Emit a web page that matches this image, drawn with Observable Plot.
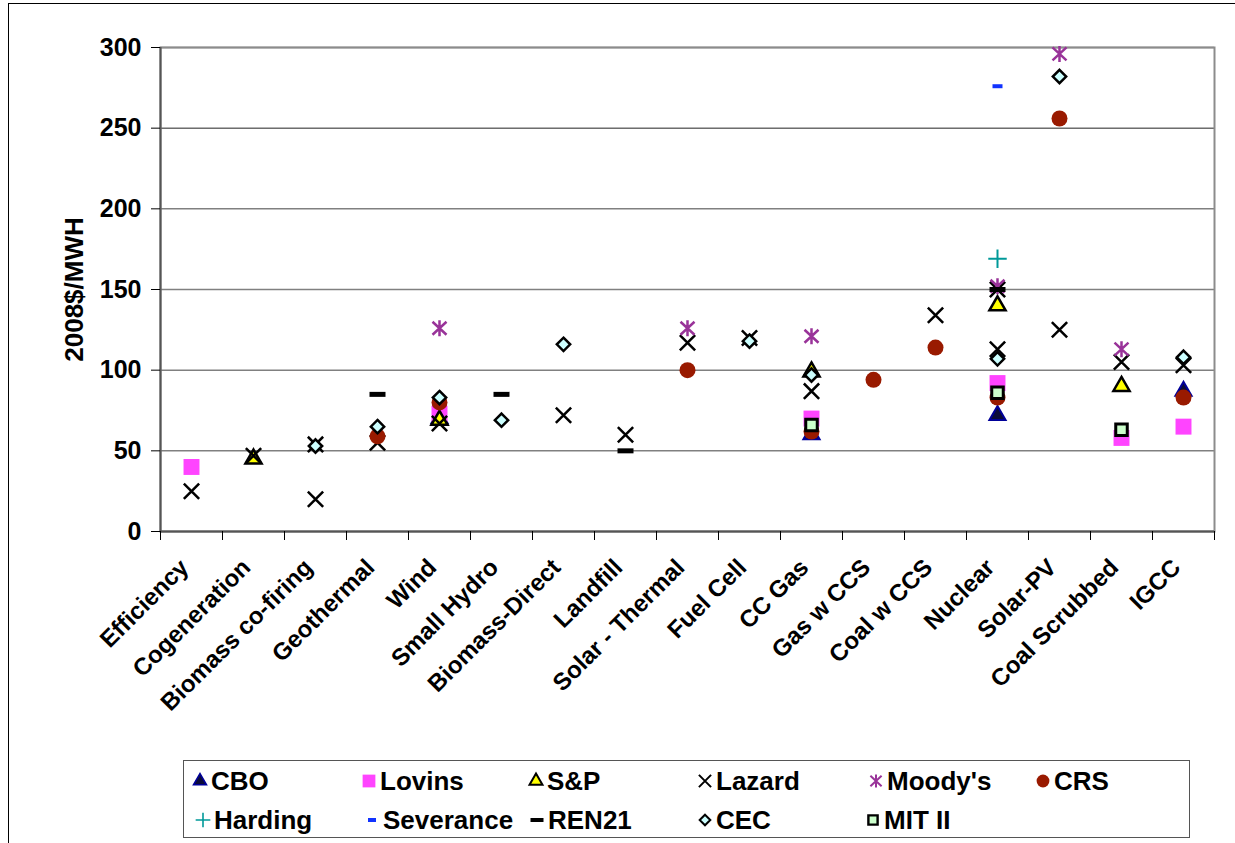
<!DOCTYPE html>
<html><head><meta charset="utf-8">
<script src="https://cdn.jsdelivr.net/npm/d3@7"></script>
<script src="https://cdn.jsdelivr.net/npm/@observablehq/plot@0.6"></script>
<style>
body{margin:0;background:#fff;font-family:"Liberation Sans",Arial,sans-serif;}
#frame{position:absolute;left:8px;top:3px;width:1240px;height:850px;border:1.5px solid #000;box-sizing:border-box;}
#chart{position:absolute;left:0;top:0;}
#legend{position:absolute;left:183px;top:760px;width:1007px;height:78px;border:1.5px solid #555;box-sizing:border-box;font-weight:bold;font-size:26px;}
.item{position:absolute;display:flex;align-items:center;white-space:nowrap;}
.item svg{overflow:visible;margin-right:4px;}
</style>
</head><body>
<div id="frame"></div>
<div id="chart"></div>
<div id="legend"></div>
<script>
const categories = ["Efficiency","Cogeneration","Biomass co-firing","Geothermal","Wind","Small Hydro","Biomass-Direct","Landfill","Solar - Thermal","Fuel Cell","CC Gas","Gas w CCS","Coal w CCS","Nuclear","Solar-PV","Coal Scrubbed","IGCC"];
const yTicks = [0,50,100,150,200,250,300];

const cbo = [["Wind",70],["CC Gas",60],["Nuclear",72],["IGCC",87]];
const lovins = [["Efficiency",40],["Wind",73],["CC Gas",70],["Nuclear",92],["Coal Scrubbed",58],["IGCC",65]];
const sp = [["Cogeneration",45],["Wind",69],["CC Gas",99],["Nuclear",140],["Coal Scrubbed",90]];
const lazard = [["Efficiency",25],["Cogeneration",47],["Biomass co-firing",20],["Biomass co-firing",54],["Geothermal",55],["Wind",67],["Biomass-Direct",72],["Landfill",60],["Solar - Thermal",117],["Fuel Cell",120],["CC Gas",87],["Coal w CCS",134],["Nuclear",150],["Nuclear",113],["Solar-PV",125],["Coal Scrubbed",105],["IGCC",103]];
const moodys = [["Wind",126],["Solar - Thermal",126],["CC Gas",121],["Nuclear",152],["Solar-PV",296],["Coal Scrubbed",113]];
const crs = [["Geothermal",59],["Wind",80],["Solar - Thermal",100],["CC Gas",62],["Gas w CCS",94],["Coal w CCS",114],["Nuclear",83],["Solar-PV",256],["IGCC",83]];
const harding = [["Nuclear",169]];
const severance = [["Nuclear",276]];
const ren21 = [["Geothermal",85],["Small Hydro",85],["Landfill",50],["Nuclear",150]];
const cec = [["Biomass co-firing",53],["Geothermal",65],["Wind",83],["Small Hydro",69],["Biomass-Direct",116],["Fuel Cell",118],["CC Gas",97],["Nuclear",107],["Solar-PV",282],["IGCC",108]];
const mit = [["CC Gas",66],["Nuclear",86],["Coal Scrubbed",63]];

const X = c => categories.indexOf(c) + 0.5;
const pts = arr => arr.map(([c, v]) => ({x: X(c), y: v}));
const dash = (w, h) => ({draw(ctx){ ctx.moveTo(-w/2,-h/2); ctx.lineTo(w/2,-h/2); ctx.lineTo(w/2,h/2); ctx.lineTo(-w/2,h/2); ctx.closePath(); }});
const star = k => ({draw(ctx){ ctx.moveTo(0,-8*k); ctx.lineTo(0,8*k); ctx.moveTo(-7*k,-6.5*k); ctx.lineTo(7*k,6.5*k); ctx.moveTo(-7*k,6.5*k); ctx.lineTo(7*k,-6.5*k); }});

const series = [
  {name:"CBO", data:cbo, o:{symbol:"triangle", r:6, fill:"#0b0b3a", stroke:"#000099", strokeWidth:2}},
  {name:"Lovins", data:lovins, o:{symbol:"square", r:9, fill:"#ff44ff"}},
  {name:"S&P", data:sp, o:{symbol:"triangle", r:6, fill:"#ffff00", stroke:"#000", strokeWidth:2.5}},
  {name:"Lazard", data:lazard, o:{symbol:"times", r:7, fill:"none", stroke:"#000", strokeWidth:2.5}},
  {name:"Moody's", data:moodys, o:{symbol:star(1), legendSymbol:star(0.8), r:7.5, fill:"none", stroke:"#993399", strokeWidth:2.5}},
  {name:"CRS", data:crs, o:{symbol:"circle", r:8, fill:"#991a00"}},
  {name:"Harding", data:harding, o:{symbol:"plus", r:6, fill:"none", stroke:"#009999", strokeWidth:2}},
  {name:"Severance", data:severance, o:{symbol:dash(10,4), legendSymbol:dash(8,4), r:5, fill:"#1133ff"}},
  {name:"REN21", data:ren21, o:{symbol:dash(16,5), legendSymbol:dash(13,4), r:5, fill:"#000"}},
  {name:"CEC", data:cec, o:{symbol:"diamond2", r:6, fill:"#ccffff", stroke:"#000", strokeWidth:2.5}},
  {name:"MIT II", data:mit, o:{symbol:"square", r:6.5, fill:"#ccffcc", stroke:"#000", strokeWidth:3}}
];

const plot = Plot.plot({
  width: 1235, height: 755,
  marginTop: 47, marginBottom: 224, marginLeft: 160, marginRight: 21,
  x: {domain: [0, categories.length]},
  y: {domain: [0, 300]},
  style: {fontFamily: "Liberation Sans, Arial, sans-serif", fontWeight: "bold", background: "transparent", color: "#000"},
  marks: [
    Plot.gridY(yTicks.filter(d => d !== 250), {stroke: "#808080", strokeOpacity: 1, strokeWidth: 1.5}),
    Plot.ruleY([250], {stroke: "#222", strokeWidth: 1}),
    Plot.frame({stroke: "#8c8c8c", strokeWidth: 2}),
    Plot.ruleX([0], {stroke: "#555", strokeWidth: 2}),
    Plot.ruleY([0], {stroke: "#555", strokeWidth: 2}),
    Plot.axisY(yTicks, {tickSize: 9, tickPadding: 10, fontSize: 25, label: null}),
    Plot.axisY({ticks: [], label: "2008$/MWH", labelAnchor: "center", labelArrow: "none", labelOffset: 96, fontSize: 26}),
    Plot.axisX(d3.range(categories.length + 1), {tickSize: 9, tickFormat: () => "", label: null}),
    Plot.axisX(categories.map((c, i) => i + 0.5), {tickSize: 0, tickRotate: -45, tickPadding: 32, dx: -7, fontSize: 24, tickFormat: v => categories[Math.round(v - 0.5)], label: null}),
    ...series.map(s => Plot.dot(pts(s.data), {x: "x", y: "y", symbol: s.o.symbol, r: s.o.r, fill: s.o.fill, stroke: s.o.stroke, strokeWidth: s.o.strokeWidth}))
  ]
});
document.getElementById("chart").appendChild(plot);

// legend
const legend = document.getElementById("legend");
const pos = [[17,20],[186,20],[353,20],[522,20],[693,20],[860,20],[20,59],[189,59],[354,59],[522,59],[690,59]];
const symType = {triangle: d3.symbolTriangle, square: d3.symbolSquare, times: d3.symbolTimes, asterisk: d3.symbolAsterisk, circle: d3.symbolCircle, plus: d3.symbolPlus, diamond2: d3.symbolDiamond2};
series.forEach((s, i) => {
  const [lx, ly] = pos[i];
  const div = document.createElement("div");
  div.className = "item";
  div.style.left = (lx - 8) + "px";
  div.style.top = (ly - 15) + "px";
  div.style.height = "30px";
  const svg = d3.create("svg").attr("width", 14).attr("height", 20).attr("viewBox", "-7 -10 14 20");
  const sym = s.o.legendSymbol || s.o.symbol;
  const t = typeof sym === "string" ? symType[sym] : sym;
  const size = Math.PI * (s.o.r * 0.8) ** 2;
  svg.append("path").attr("d", d3.symbol(t, size)())
    .attr("fill", s.o.fill || "none").attr("stroke", s.o.stroke || "none").attr("stroke-width", (s.o.strokeWidth || 0) * 0.8);
  div.appendChild(svg.node());
  const span = document.createElement("span");
  span.textContent = s.name;
  div.appendChild(span);
  legend.appendChild(div);
});
</script>
</body></html>
